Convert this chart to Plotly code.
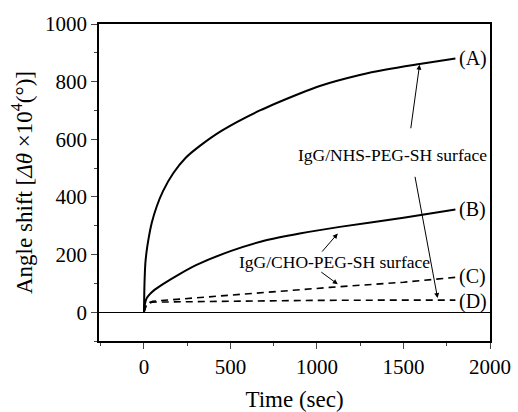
import plotly.graph_objects as go

# Curve A: IgG/NHS-PEG-SH surface (solid)
t_a = [0, 3, 8, 15, 25, 45, 73, 110, 169, 240, 323, 450, 670, 901, 1016, 1247, 1400, 1593, 1800]
v_a = [0, 100, 170, 210, 250, 310, 366, 420, 482, 535, 577, 630, 700, 759, 785, 823, 842, 861, 880]

# Curve B: IgG/CHO-PEG-SH surface (solid)
t_b = [0, 4, 15, 30, 54, 112, 208, 304, 500, 689, 900, 1132, 1500, 1800]
v_b = [0, 25, 48, 60, 74, 98, 133, 164, 212, 247, 273, 296, 328, 356]

# Curve C (dashed)
t_c = [0, 15, 50, 112, 658, 1074, 1500, 1800]
v_c = [0, 30, 38, 41, 66, 86, 104, 121]

# Curve D (dashed)
t_d = [0, 15, 50, 500, 1000, 1500, 1800]
v_d = [0, 28, 35, 39, 41, 42, 42]

curve_labels = ["(A)", "(B)", "(C)", "(D)"]
label_y = [880, 356, 123, 38]

x_ticks = [0, 500, 1000, 1500, 2000]
y_ticks = [0, 200, 400, 600, 800, 1000]

serif = "Liberation Serif, Times New Roman, serif"

fig = go.Figure()
fig.add_trace(go.Scatter(x=t_a, y=v_a, mode="lines", line=dict(color="black", width=2, shape="spline", smoothing=0.8)))
fig.add_trace(go.Scatter(x=t_b, y=v_b, mode="lines", line=dict(color="black", width=2, shape="spline", smoothing=0.8)))
fig.add_trace(go.Scatter(x=t_c, y=v_c, mode="lines", line=dict(color="black", width=1.6, dash="7px,5px")))
fig.add_trace(go.Scatter(x=t_d, y=v_d, mode="lines", line=dict(color="black", width=1.6, dash="7px,5px")))

annotations = []
for lab, ly in zip(curve_labels, label_y):
    annotations.append(dict(x=1812, y=ly, xref="x", yref="y", text=lab, showarrow=False,
                            xanchor="left", yanchor="middle", font=dict(family=serif, size=20, color="black")))

annotations.append(dict(x=1435, y=546, xref="x", yref="y", text="IgG/NHS-PEG-SH surface", showarrow=False,
                        font=dict(family=serif, size=17.5, color="black")))
annotations.append(dict(x=1100, y=174, xref="x", yref="y", text="IgG/CHO-PEG-SH surface", showarrow=False,
                        font=dict(family=serif, size=17.5, color="black")))

# pointer arrows (tail -> head)
arrows = [
    (1541, 633, 1593, 859),
    (1565, 475, 1697, 49),
    (1022, 205, 1120, 273),
    (1016, 143, 1120, 97),
]
for ax_, ay_, hx, hy in arrows:
    annotations.append(dict(x=hx, y=hy, ax=ax_, ay=ay_, xref="x", yref="y", axref="x", ayref="y",
                            text="", showarrow=True, arrowhead=2, arrowsize=1, arrowwidth=1, arrowcolor="black"))

fig.update_layout(
    width=518, height=412,
    margin=dict(l=99, r=28, t=24, b=71),
    paper_bgcolor="white", plot_bgcolor="white",
    showlegend=False,
    annotations=annotations,
    font=dict(family=serif, color="black"),
)
fig.update_xaxes(
    range=[-260, 2000], tickvals=x_ticks, ticks="outside", ticklen=6, tickwidth=1.3,
    minor=dict(dtick=250, tick0=0, ticks="outside", ticklen=3, tickwidth=1.3, showgrid=False),
    showgrid=False, zeroline=False, showline=True, linecolor="black", linewidth=1.5, mirror=True,
    tickfont=dict(family=serif, size=21, color="black"), automargin=False,
    title=dict(text="Time (sec)", font=dict(family=serif, size=23, color="black"), standoff=14),
)
fig.update_yaxes(
    range=[-100, 1000], tickvals=y_ticks, ticks="outside", ticklen=6, tickwidth=1.3,
    minor=dict(dtick=100, tick0=0, ticks="outside", ticklen=3, tickwidth=1.3, showgrid=False),
    showgrid=False, zeroline=True, zerolinecolor="black", zerolinewidth=1.2,
    showline=True, linecolor="black", linewidth=1.5, mirror=True,
    tickfont=dict(family=serif, size=21, color="black"), automargin=False,
    title=dict(text="Angle shift [<i>Δθ</i> ×10<sup>4</sup>(°)]", font=dict(family=serif, size=23, color="black"), standoff=6),
)
fig.write_html("out.html")
